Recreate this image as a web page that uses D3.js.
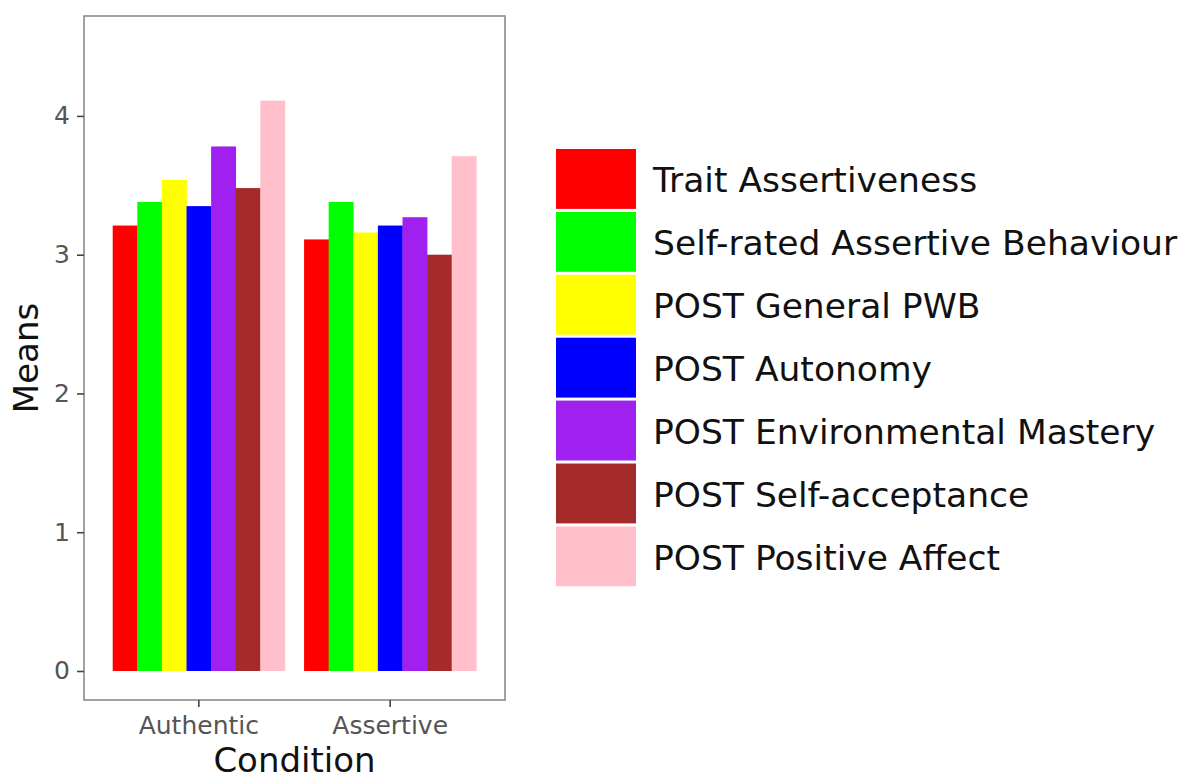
<!DOCTYPE html>
<html lang="en">
<head>
  <meta charset="UTF-8">
  <title>Means by condition</title>
  <script src="https://cdn.jsdelivr.net/npm/d3@7"></script>
  <style>
    body { margin: 0; background: #fff; }
    text { font-family: "DejaVu Sans", sans-serif; }
  </style>
</head>
<body>
  <svg id="chart"></svg>
<script>
  const width = 1187, height = 780;

  // data
  const conditions = ['Authentic', 'Assertive'];
  const measures = [
    'Trait Assertiveness',
    'Self-rated Assertive Behaviour',
    'POST General PWB',
    'POST Autonomy',
    'POST Environmental Mastery',
    'POST Self-acceptance',
    'POST Positive Affect'
  ];
  const authenticMeans = [3.21, 3.38, 3.54, 3.35, 3.78, 3.48, 4.11];
  const assertiveMeans = [3.11, 3.38, 3.16, 3.21, 3.27, 3.00, 3.71];
  const colors = ['#ff0000', '#00ff00', '#ffff00', '#0000ff', '#a020f0', '#a52a2a', '#ffc0cb'];
  const yTicks = [0, 1, 2, 3, 4];

  const rows = [];
  conditions.forEach((c, ci) => {
    const vals = ci === 0 ? authenticMeans : assertiveMeans;
    measures.forEach((m, mi) => rows.push({ condition: c, measure: m, value: vals[mi] }));
  });

  const panel = { left: 84, right: 505, top: 16, bottom: 700 };

  const svg = d3.select('#chart')
    .attr('width', width)
    .attr('height', height);

  const x = d3.scaleBand()
    .domain(conditions)
    .range([panel.left, panel.right])
    .paddingInner(0.1)
    .paddingOuter(0.15);

  const xInner = d3.scaleBand()
    .domain(measures)
    .range([0, x.bandwidth()]);

  const y = d3.scaleLinear()
    .domain([-0.209, 4.72])
    .range([panel.bottom, panel.top]);

  const color = d3.scaleOrdinal().domain(measures).range(colors);

  // bars
  svg.append('g')
    .selectAll('rect')
    .data(rows)
    .join('rect')
    .attr('x', d => x(d.condition) + xInner(d.measure))
    .attr('width', xInner.bandwidth() + 0.3)
    .attr('y', d => y(d.value))
    .attr('height', d => y(0) - y(d.value))
    .attr('fill', d => color(d.measure));

  // panel border
  svg.append('rect')
    .attr('x', panel.left)
    .attr('y', panel.top)
    .attr('width', panel.right - panel.left)
    .attr('height', panel.bottom - panel.top)
    .attr('fill', 'none')
    .attr('stroke', '#8a8a8a')
    .attr('stroke-width', 1.6);

  // y axis
  const yAxis = svg.append('g')
    .attr('transform', `translate(${panel.left},0)`)
    .call(d3.axisLeft(y).tickValues(yTicks).tickFormat(d3.format('d')).tickSize(7).tickPadding(7));
  yAxis.select('.domain').remove();

  // x axis
  const xAxis = svg.append('g')
    .attr('transform', `translate(0,${panel.bottom})`)
    .call(d3.axisBottom(x).tickSize(7).tickPadding(9));
  xAxis.select('.domain').remove();

  svg.selectAll('.tick line').attr('stroke', '#444').attr('stroke-width', 1.6);
  svg.selectAll('.tick text')
    .attr('fill', '#555')
    .style('font-size', '25px')
    .style('font-family', '"DejaVu Sans", sans-serif');

  // axis titles
  svg.append('text')
    .attr('x', (panel.left + panel.right) / 2)
    .attr('y', 772)
    .attr('text-anchor', 'middle')
    .style('font-size', '34px')
    .attr('fill', '#111')
    .text('Condition');

  svg.append('text')
    .attr('transform', `translate(38,${(panel.top + panel.bottom) / 2}) rotate(-90)`)
    .attr('text-anchor', 'middle')
    .style('font-size', '34px')
    .attr('fill', '#111')
    .text('Means');

  // legend
  const legendStep = 62.9;
  const legend = svg.append('g')
    .attr('transform', 'translate(556,148)');

  const item = legend.selectAll('g')
    .data(measures)
    .join('g')
    .attr('transform', (d, i) => `translate(0,${i * legendStep})`);

  item.append('rect')
    .attr('x', 0)
    .attr('y', 1)
    .attr('width', 80)
    .attr('height', legendStep - 3)
    .attr('fill', d => color(d));

  item.append('text')
    .attr('x', 97)
    .attr('y', legendStep / 2 + 13)
    .style('font-size', '34.5px')
    .attr('fill', '#111')
    .text(d => d);
</script>
</body>
</html>
